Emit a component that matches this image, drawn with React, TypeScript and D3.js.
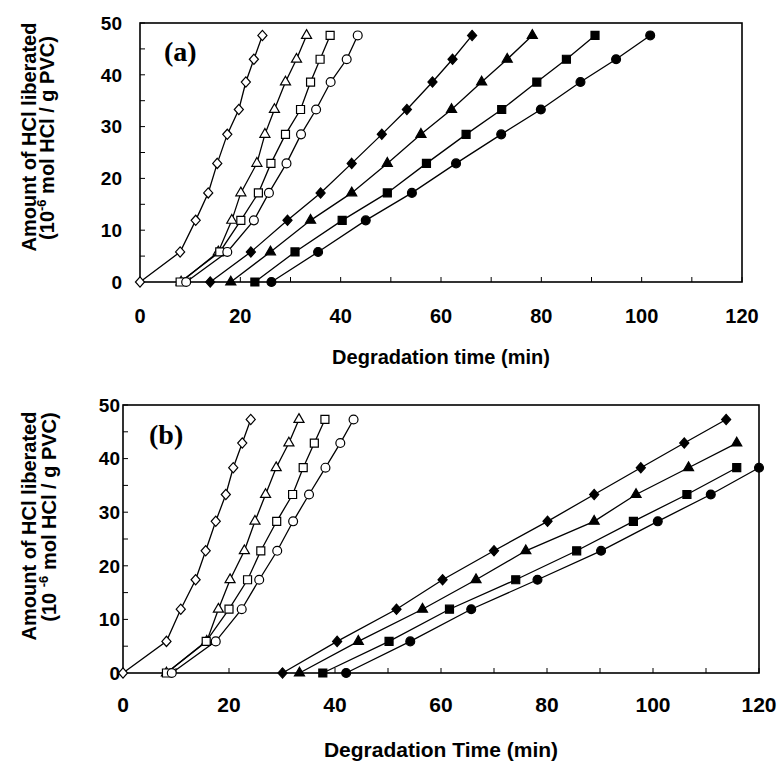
import React from 'react'
import * as d3 from 'd3'

// HCl levels (10^-6 mol HCl / g PVC) shared by every series of a panel
const levelsA = [0, 5.8, 11.9, 17.2, 22.9, 28.5, 33.3, 38.6, 43.0, 47.6]
const levelsB = [0, 5.9, 11.9, 17.4, 22.8, 28.3, 33.3, 38.3, 42.9, 47.3]

// degradation times (min) read for each level
const openDiamondA = [0, 8.0, 11.1, 13.6, 15.4, 17.4, 19.7, 21.1, 22.7, 24.4]
const openTriangleA = [8.2, 15.6, 18.3, 20.1, 23.3, 24.9, 26.8, 29.0, 31.2, 33.2]
const openSquareA = [8.0, 15.9, 20.1, 23.6, 26.1, 29.0, 32.0, 34.0, 35.9, 37.9]
const openCircleA = [9.2, 17.4, 22.7, 25.7, 29.2, 32.1, 35.1, 38.0, 41.2, 43.4]
const filledDiamondA = [14.0, 22.1, 29.4, 36.0, 42.2, 48.2, 53.2, 58.3, 62.3, 66.2]
const filledTriangleA = [18.1, 26.0, 34.0, 42.2, 49.3, 56.0, 62.1, 68.1, 73.2, 78.2]
const filledSquareA = [22.9, 30.9, 40.3, 49.3, 57.1, 65.0, 72.1, 79.1, 85.0, 90.7]
const filledCircleA = [26.2, 35.5, 45.0, 54.2, 63.0, 72.0, 79.9, 87.8, 94.9, 101.7]

const openDiamondB = [0, 8.2, 10.9, 13.7, 15.6, 17.5, 19.4, 20.8, 22.5, 24.1]
const openTriangleB = [8.2, 15.8, 18.0, 20.2, 22.9, 24.9, 26.9, 28.9, 31.3, 33.2]
const openSquareB = [8.2, 15.7, 20.0, 23.5, 26.0, 29.0, 32.0, 34.0, 36.1, 38.1]
const openCircleB = [9.2, 17.5, 22.4, 25.7, 29.1, 32.1, 35.1, 38.2, 41.0, 43.5]
const filledDiamondB = [30.1, 40.4, 51.6, 60.3, 70.0, 80.1, 88.9, 97.7, 105.9, 113.8]
const filledTriangleB = [33.3, 44.4, 56.5, 66.6, 76.0, 88.9, 96.8, 106.7, 115.8]
const filledSquareB = [37.7, 50.2, 61.6, 74.1, 85.6, 96.3, 106.4, 115.8]
const filledCircleB = [42.1, 54.2, 65.7, 78.2, 90.2, 100.9, 110.9, 120.0]

const xTickLabels = [0, 20, 40, 60, 80, 100, 120]
const yTickLabels = [0, 10, 20, 30, 40, 50]

const sans = '"Liberation Sans", Arial, sans-serif'
const serif = '"Liberation Serif", "Times New Roman", serif'

// squarer diamond than d3.symbolDiamond
const diamond = {
  draw(ctx: any, size: number) {
    const w = Math.sqrt(size) * 0.62
    const h = w * 1.12
    ctx.moveTo(0, -h)
    ctx.lineTo(w, 0)
    ctx.lineTo(0, h)
    ctx.lineTo(-w, 0)
    ctx.closePath()
  }
}

const shapes: Record<string, {type: any; size: number}> = {
  diamond: {type: diamond, size: 54},
  triangle: {type: d3.symbolTriangle, size: 44},
  square: {type: d3.symbolSquare, size: 64},
  circle: {type: d3.symbolCircle, size: 62}
}

type Series = {xs: number[]; shape: string; filled: boolean}

const seriesA: Series[] = [
  {xs: openDiamondA, shape: 'diamond', filled: false},
  {xs: openTriangleA, shape: 'triangle', filled: false},
  {xs: openSquareA, shape: 'square', filled: false},
  {xs: openCircleA, shape: 'circle', filled: false},
  {xs: filledDiamondA, shape: 'diamond', filled: true},
  {xs: filledTriangleA, shape: 'triangle', filled: true},
  {xs: filledSquareA, shape: 'square', filled: true},
  {xs: filledCircleA, shape: 'circle', filled: true}
]

const seriesB: Series[] = [
  {xs: openDiamondB, shape: 'diamond', filled: false},
  {xs: openTriangleB, shape: 'triangle', filled: false},
  {xs: openSquareB, shape: 'square', filled: false},
  {xs: openCircleB, shape: 'circle', filled: false},
  {xs: filledDiamondB, shape: 'diamond', filled: true},
  {xs: filledTriangleB, shape: 'triangle', filled: true},
  {xs: filledSquareB, shape: 'square', filled: true},
  {xs: filledCircleB, shape: 'circle', filled: true}
]

type PanelProps = {
  left: number
  right: number
  top: number
  bottom: number
  levels: number[]
  series: Series[]
  tag: string
  tagX: number
  tagY: number
  yLabelGap: number
  xLabelDy: number
  tickFont: number
  yTickFont: number
}

function Panel(p: PanelProps) {
  const x = d3.scaleLinear().domain([0, 120]).range([p.left, p.right])
  const y = d3.scaleLinear().domain([0, 50]).range([p.bottom, p.top])
  const line = d3
    .line<[number, number]>()
    .x(d => x(d[0]))
    .y(d => y(d[1]))

  return (
    <g>
      {/* inward ticks */}
      {d3.range(0, 121, 10).map(v => (
        <line key={'xt' + v} x1={x(v)} x2={x(v)} y1={p.bottom} y2={p.bottom - 5} stroke="#000" strokeWidth={1} />
      ))}
      {d3.range(0, 51, 5).map(v => (
        <line key={'yt' + v} x1={p.left} x2={p.left + 5} y1={y(v)} y2={y(v)} stroke="#000" strokeWidth={1} />
      ))}
      <rect
        x={p.left}
        y={p.top}
        width={p.right - p.left}
        height={p.bottom - p.top}
        fill="none"
        stroke="#000"
        strokeWidth={1.6}
      />
      {xTickLabels.map(v => (
        <text
          key={'xl' + v}
          x={x(v)}
          y={p.bottom + p.xLabelDy}
          textAnchor="middle"
          fontFamily={sans}
          fontWeight="bold"
          fontSize={p.tickFont}
        >
          {v}
        </text>
      ))}
      {yTickLabels.map(v => (
        <text
          key={'yl' + v}
          x={p.left - p.yLabelGap}
          y={y(v)}
          dy="0.36em"
          textAnchor="end"
          fontFamily={sans}
          fontWeight="bold"
          fontSize={p.yTickFont}
        >
          {v}
        </text>
      ))}
      {p.series.map((s, i) => {
        const pts = s.xs.map((xv, j) => [xv, p.levels[j]] as [number, number])
        const sym = d3.symbol().type(shapes[s.shape].type).size(shapes[s.shape].size)
        return (
          <g key={'s' + i}>
            <path d={line(pts) || ''} fill="none" stroke="#000" strokeWidth={1.3} />
            {pts.map((d, j) => (
              <path
                key={j}
                d={sym() || ''}
                transform={`translate(${x(d[0])},${y(d[1])})`}
                fill={s.filled ? '#000' : '#fff'}
                stroke="#000"
                strokeWidth={1.2}
              />
            ))}
          </g>
        )
      })}
      <text x={p.tagX} y={p.tagY} fontFamily={serif} fontWeight="bold" fontSize={28}>
        {p.tag}
      </text>
    </g>
  )
}

function YTitle({cy1, cy2, x1, x2, gap}: {cy1: number; cy2: number; x1: number; x2: number; gap: string}) {
  return (
    <g fontFamily={sans} fontWeight="bold" fontSize={20}>
      <text transform={`translate(${x1},${cy1}) rotate(-90)`} textAnchor="middle">
        Amount of HCl liberated
      </text>
      <text transform={`translate(${x2},${cy2}) rotate(-90)`} textAnchor="middle">
        (10{gap}
        <tspan fontSize={13} dy={-8}>
          -6
        </tspan>
        <tspan dy={8}> mol HCl / g PVC)</tspan>
      </text>
    </g>
  )
}

export default function App() {
  return (
    <svg
      width={779}
      height={764}
      style={{position: 'absolute', left: 0, top: 0, background: '#fff'}}
    >
      <Panel
        left={140}
        right={742}
        top={23}
        bottom={282}
        levels={levelsA}
        series={seriesA}
        tag="(a)"
        tagX={164}
        tagY={61}
        yLabelGap={18}
        xLabelDy={41}
        tickFont={20}
        yTickFont={19}
      />
      <text x={441} y={364} textAnchor="middle" fontFamily={sans} fontWeight="bold" fontSize={20}>
        Degradation time (min)
      </text>
      <YTitle x1={36} x2={54} cy1={137} cy2={138} gap="" />

      <Panel
        left={123}
        right={759}
        top={405}
        bottom={673}
        levels={levelsB}
        series={seriesB}
        tag="(b)"
        tagX={149}
        tagY={444}
        yLabelGap={3}
        xLabelDy={39}
        tickFont={21}
        yTickFont={19}
      />
      <text x={441} y={757} textAnchor="middle" fontFamily={sans} fontWeight="bold" fontSize={21}>
        Degradation Time (min)
      </text>
      <YTitle x1={36} x2={56} cy1={526} cy2={517} gap=" " />
    </svg>
  )
}
